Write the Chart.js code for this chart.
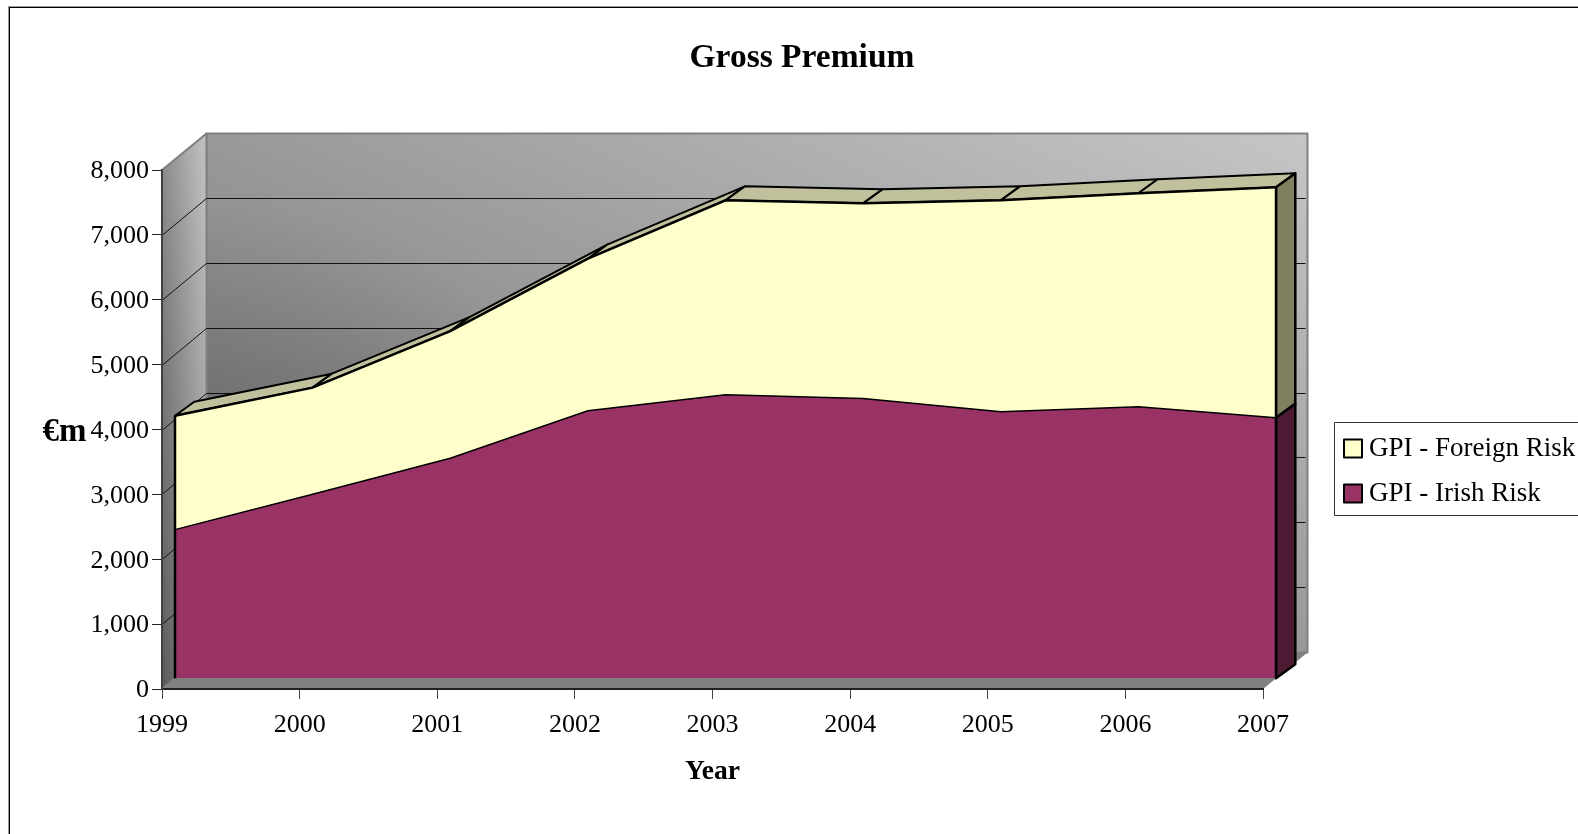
<!DOCTYPE html>
<html>
<head>
<meta charset="utf-8">
<title>Gross Premium</title>
<script src="https://cdn.jsdelivr.net/npm/chart.js@4"></script>
<style>
  html, body { margin: 0; padding: 0; background: #fff; overflow: hidden; }
  canvas { display: block; }
</style>
</head>
<body>
<canvas id="grossChart" width="1578" height="834"></canvas>
<script>
const years = ["1999", "2000", "2001", "2002", "2003", "2004", "2005", "2006", "2007"];
const irishRisk = [2292, 2838, 3393, 4124, 4372, 4311, 4109, 4186, 4016];
const foreignRisk = [1755, 1642, 1959, 2344, 2995, 3010, 3258, 3291, 3553];
const yTicks = [0, 1000, 2000, 3000, 4000, 5000, 6000, 7000, 8000];

const serif = "'Liberation Serif', 'Times New Roman', serif";
// excel style 3d offsets
const wallDepth = { x: 44.5, y: -36.5 };
const faceShift = { x: 13, y: -10.7 };
const faceDepth = { x: 19.3, y: -14 };

function poly(ctx, pts, fill, stroke, width) {
  ctx.beginPath();
  pts.forEach((p, i) => (i ? ctx.lineTo(p[0], p[1]) : ctx.moveTo(p[0], p[1])));
  ctx.closePath();
  if (fill) {
    ctx.fillStyle = fill;
    ctx.fill();
  }
  if (stroke) {
    ctx.strokeStyle = stroke;
    ctx.lineWidth = width;
    ctx.lineJoin = "round";
    ctx.stroke();
  }
}

const walls3d = {
  id: "walls3d",
  afterLayout(chart) {
    // center the title on the whole figure, not the plot
    chart.titleBlock.left = 0;
    chart.titleBlock.right = 1604;
  },
  beforeDraw(chart) {
    const { ctx, chartArea: a, scales } = chart;
    const d = wallDepth;
    ctx.save();

    // outer frame runs off the right and bottom of the page
    ctx.lineWidth = 1;
    ctx.strokeStyle = "#999";
    ctx.strokeRect(8.5, 6.5, 1700, 1000);
    ctx.strokeStyle = "#000";
    ctx.strokeRect(9.5, 7.5, 1700, 1000);

    // floor
    poly(ctx, [[a.left, a.bottom], [a.right, a.bottom], [a.right + d.x, a.bottom + d.y], [a.left + d.x, a.bottom + d.y]], "#808080");

    // back wall, darkest in the lower left corner
    const wall = [[a.left + d.x, a.top + d.y], [a.right + d.x, a.top + d.y], [a.right + d.x, a.bottom + d.y], [a.left + d.x, a.bottom + d.y]];
    const back = ctx.createLinearGradient(a.left + d.x, a.bottom + d.y, 605, -200);
    back.addColorStop(0, "#6c6c6c");
    back.addColorStop(1, "#c6c6c6");
    poly(ctx, wall, back);
    const corner = ctx.createRadialGradient(a.left + d.x, a.bottom + d.y, 0, a.left + d.x, a.bottom + d.y, 450);
    corner.addColorStop(0, "rgba(0,0,0,0.3)");
    corner.addColorStop(1, "rgba(0,0,0,0)");
    poly(ctx, wall, corner, "#808080", 2);

    // left wall
    const side = ctx.createLinearGradient(a.left, a.bottom, a.left + 80, a.bottom - 6);
    side.addColorStop(0, "#5a5a5a");
    side.addColorStop(1, "#bcbcbc");
    poly(ctx, [[a.left, a.top], [a.left + d.x, a.top + d.y], [a.left + d.x, a.bottom + d.y], [a.left, a.bottom]], side, "#808080", 2);

    // gridlines on the walls, snapped so they stay one pixel wide
    ctx.strokeStyle = "#111";
    ctx.lineWidth = 1;
    yTicks.slice(1, -1).forEach((v) => {
      const y = Math.round(scales.y.getPixelForValue(v));
      const backY = Math.floor(y + d.y) + 0.5;
      ctx.beginPath();
      ctx.moveTo(a.left, y + 0.5);
      ctx.lineTo(a.left + d.x, backY);
      ctx.lineTo(a.right + d.x - 2, backY);
      ctx.stroke();
    });

    // y axis name sits horizontally
    ctx.fillStyle = "#000";
    ctx.font = "bold 33px " + serif;
    ctx.textAlign = "center";
    ctx.textBaseline = "middle";
    ctx.fillText("€m", 64.5, 432);

    // legend, clipped by the page like the original
    ctx.strokeStyle = "#333";
    ctx.lineWidth = 1;
    ctx.strokeRect(1334.5, 422.5, 300, 93);
    ctx.font = "27px " + serif;
    ctx.textAlign = "left";
    [...chart.data.datasets].reverse().forEach((ds, i) => {
      const top = 439.5 + i * 45;
      ctx.fillStyle = ds.backgroundColor;
      ctx.fillRect(1344, top, 18, 18);
      ctx.strokeStyle = "#000";
      ctx.lineWidth = 2;
      ctx.strokeRect(1344, top, 18, 18);
      ctx.fillStyle = "#000";
      ctx.fillText(ds.label, 1369, top + 9);
    });
    ctx.restore();
  },
  beforeDatasetsDraw(chart) {
    const { ctx } = chart;
    const f = faceDepth;
    ctx.save();
    ctx.translate(faceShift.x, faceShift.y);

    const irish = chart.getDatasetMeta(0).data;
    const foreign = chart.getDatasetMeta(1).data;
    const last = years.length - 1;
    const floorY = chart.scales.y.getPixelForValue(0);

    // top of the foreign band, one slab per year
    for (let i = 0; i < last; i++) {
      const p = foreign[i];
      const q = foreign[i + 1];
      poly(ctx, [[p.x, p.y], [q.x, q.y], [q.x + f.x, q.y + f.y], [p.x + f.x, p.y + f.y]], "#c0c09c", "#000", 2);
    }

    // right hand side faces
    const xr = foreign[last].x;
    poly(ctx, [[xr, foreign[last].y], [xr + f.x, foreign[last].y + f.y], [xr + f.x, irish[last].y + f.y], [xr, irish[last].y]], "#808060", "#000", 2.5);
    poly(ctx, [[xr, irish[last].y], [xr + f.x, irish[last].y + f.y], [xr + f.x, floorY + f.y], [xr, floorY]], "#4d1a33", "#000", 2.5);
  },
  afterDatasetsDraw(chart) {
    const { ctx } = chart;
    const foreign = chart.getDatasetMeta(1).data;
    const floorY = chart.scales.y.getPixelForValue(0);
    const last = years.length - 1;

    // upright edges of the front face
    ctx.strokeStyle = "#000";
    ctx.lineWidth = 2.5;
    [0, last].forEach((i) => {
      ctx.beginPath();
      ctx.moveTo(foreign[i].x, foreign[i].y);
      ctx.lineTo(foreign[i].x, floorY);
      ctx.stroke();
    });
    ctx.restore();
  },
};

new Chart(document.getElementById("grossChart"), {
  type: "line",
  data: {
    labels: years,
    datasets: [
      {
        label: "GPI - Irish Risk",
        data: irishRisk,
        backgroundColor: "#993366",
        borderColor: "#000",
        borderWidth: 1.5,
        fill: "origin",
      },
      {
        label: "GPI - Foreign Risk",
        data: foreignRisk,
        backgroundColor: "#ffffcc",
        borderColor: "#000",
        borderWidth: 2.5,
        fill: "-1",
      },
    ],
  },
  options: {
    responsive: false,
    animation: false,
    layout: { padding: { left: 0, right: 315, top: 0, bottom: 0 } },
    elements: { point: { radius: 0 }, line: { tension: 0 } },
    plugins: {
      legend: { display: false },
      tooltip: { enabled: false },
      title: {
        display: true,
        text: "Gross Premium",
        color: "#000",
        font: { family: serif, size: 33.5, weight: "bold" },
        padding: { top: 38, bottom: 91.8 },
      },
    },
    scales: {
      x: {
        offset: false,
        afterFit(scale) {
          scale.height = 145;
        },
        border: { color: "#222", width: 2 },
        grid: { drawOnChartArea: false, tickLength: 10, color: "#444" },
        ticks: { color: "#000", padding: 11, maxRotation: 0, autoSkip: false, font: { family: serif, size: 26 } },
        title: {
          display: true,
          text: "Year",
          color: "#000",
          font: { family: serif, size: 27.5, weight: "bold" },
          padding: { top: 0, bottom: 46 },
        },
      },
      y: {
        stacked: true,
        min: 0,
        max: 8000,
        afterFit(scale) {
          scale.width = 162;
        },
        border: { color: "#404040", width: 2 },
        grid: { drawOnChartArea: false, tickLength: 10, color: "#222" },
        ticks: { color: "#000", stepSize: 1000, padding: 3, labelOffset: 1.5, font: { family: serif, size: 26 } },
      },
    },
  },
  plugins: [walls3d],
});
</script>
</body>
</html>
